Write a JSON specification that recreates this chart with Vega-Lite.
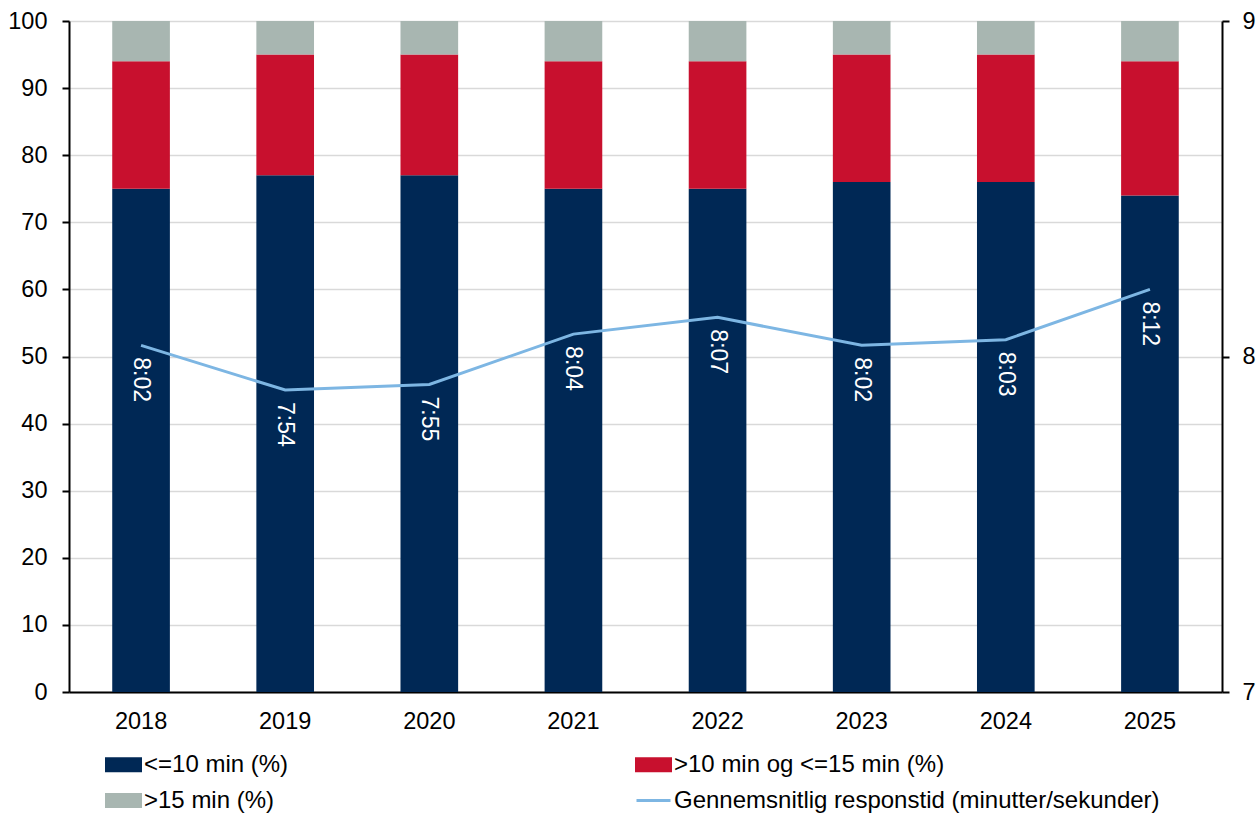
{
  "$schema": "https://vega.github.io/schema/vega-lite/v6.json",
  "width": 1153,
  "height": 671,
  "autosize": {"type": "none"},
  "padding": {"left": 69, "top": 21, "right": 36, "bottom": 122},
  "background": "white",
  "config": {
    "font": "Liberation Sans",
    "view": {"stroke": null},
    "axis": {"labelFont": "Liberation Sans", "labelFontSize": 23.5, "labelColor": "black", "domainColor": "black", "domainWidth": 2, "tickColor": "black", "tickWidth": 2, "titleFontSize": 22}
  },
  "datasets": {
    "bars": [
      {"year": "2018", "category": "<=10 min (%)", "ord": 1, "value": 75},
      {"year": "2018", "category": ">10 min og <=15 min (%)", "ord": 2, "value": 19},
      {"year": "2018", "category": ">15 min (%)", "ord": 3, "value": 6},
      {"year": "2019", "category": "<=10 min (%)", "ord": 1, "value": 77},
      {"year": "2019", "category": ">10 min og <=15 min (%)", "ord": 2, "value": 18},
      {"year": "2019", "category": ">15 min (%)", "ord": 3, "value": 5},
      {"year": "2020", "category": "<=10 min (%)", "ord": 1, "value": 77},
      {"year": "2020", "category": ">10 min og <=15 min (%)", "ord": 2, "value": 18},
      {"year": "2020", "category": ">15 min (%)", "ord": 3, "value": 5},
      {"year": "2021", "category": "<=10 min (%)", "ord": 1, "value": 75},
      {"year": "2021", "category": ">10 min og <=15 min (%)", "ord": 2, "value": 19},
      {"year": "2021", "category": ">15 min (%)", "ord": 3, "value": 6},
      {"year": "2022", "category": "<=10 min (%)", "ord": 1, "value": 75},
      {"year": "2022", "category": ">10 min og <=15 min (%)", "ord": 2, "value": 19},
      {"year": "2022", "category": ">15 min (%)", "ord": 3, "value": 6},
      {"year": "2023", "category": "<=10 min (%)", "ord": 1, "value": 76},
      {"year": "2023", "category": ">10 min og <=15 min (%)", "ord": 2, "value": 19},
      {"year": "2023", "category": ">15 min (%)", "ord": 3, "value": 5},
      {"year": "2024", "category": "<=10 min (%)", "ord": 1, "value": 76},
      {"year": "2024", "category": ">10 min og <=15 min (%)", "ord": 2, "value": 19},
      {"year": "2024", "category": ">15 min (%)", "ord": 3, "value": 5},
      {"year": "2025", "category": "<=10 min (%)", "ord": 1, "value": 74},
      {"year": "2025", "category": ">10 min og <=15 min (%)", "ord": 2, "value": 20},
      {"year": "2025", "category": ">15 min (%)", "ord": 3, "value": 6}
    ],
    "line": [
      {"year": "2018", "series": "Gennemsnitlig responstid (minutter/sekunder)", "minutes": 8.0333, "label": "8:02"},
      {"year": "2019", "series": "Gennemsnitlig responstid (minutter/sekunder)", "minutes": 7.9, "label": "7:54"},
      {"year": "2020", "series": "Gennemsnitlig responstid (minutter/sekunder)", "minutes": 7.9167, "label": "7:55"},
      {"year": "2021", "series": "Gennemsnitlig responstid (minutter/sekunder)", "minutes": 8.0667, "label": "8:04"},
      {"year": "2022", "series": "Gennemsnitlig responstid (minutter/sekunder)", "minutes": 8.1167, "label": "8:07"},
      {"year": "2023", "series": "Gennemsnitlig responstid (minutter/sekunder)", "minutes": 8.0333, "label": "8:02"},
      {"year": "2024", "series": "Gennemsnitlig responstid (minutter/sekunder)", "minutes": 8.05, "label": "8:03"},
      {"year": "2025", "series": "Gennemsnitlig responstid (minutter/sekunder)", "minutes": 8.2, "label": "8:12"}
    ]
  },
  "layer": [
    {
      "data": {"name": "bars"},
      "mark": {"type": "bar"},
      "encoding": {
        "x": {"field": "year", "type": "ordinal", "scale": {"paddingInner": 0.6, "paddingOuter": 0.3}, "axis": {"title": null, "labelAngle": 0, "ticks": false, "labelPadding": 17, "domainWidth": 2}},
        "y": {"field": "value", "type": "quantitative", "stack": "zero", "scale": {"domain": [0, 100], "nice": false}, "axis": {"title": null, "values": [0,10,20,30,40,50,60,70,80,90,100], "grid": true, "gridColor": "#D9D9D9", "gridWidth": 1.5, "tickSize": 7, "labelPadding": 15}},
        "order": {"field": "ord", "type": "quantitative", "sort": "ascending"},
        "color": {
          "field": "category",
          "type": "nominal",
          "scale": {
            "domain": ["<=10 min (%)", ">15 min (%)", ">10 min og <=15 min (%)", "Gennemsnitlig responstid (minutter/sekunder)"],
            "range": ["#002855", "#A8B6B1", "#C8102E", "#7DB6E3"]
          },
          "legend": {
            "title": null,
            "orient": "none",
            "legendX": 36,
            "legendY": 725,
            "columns": 2,
            "padding": 0,
            "labelFont": "Liberation Sans",
            "labelFontSize": 24,
            "labelColor": "black",
            "labelLimit": 700,
            "labelOffset": 2,
            "symbolSize": 1156,
            "rowPadding": 5,
            "columnPadding": 341,
            "encode": {
              "symbols": {
                "update": {
                  "shape": {"signal": "datum.value === 'Gennemsnitlig responstid (minutter/sekunder)' ? 'M-1,0H1' : 'M-1,-0.353H1V0.353H-1Z'"},
                  "fill": {"signal": "datum.value === 'Gennemsnitlig responstid (minutter/sekunder)' ? 'transparent' : scale('color', datum.value)"},
                  "stroke": {"signal": "datum.value === 'Gennemsnitlig responstid (minutter/sekunder)' ? '#7DB6E3' : 'transparent'"},
                  "strokeWidth": {"value": 3},
                  "opacity": {"value": 1},
                  "fillOpacity": {"value": 1}
                }
              }
            }
          }
        }
      }
    },
    {
      "data": {"name": "line"},
      "layer": [
        {
          "mark": {"type": "line", "strokeWidth": 3},
          "encoding": {
            "x": {"field": "year", "type": "ordinal"},
            "y": {"field": "minutes", "type": "quantitative", "scale": {"domain": [7, 9], "nice": false, "zero": false}, "axis": {"orient": "right", "title": null, "values": [7, 8, 9], "labelExpr": "toString(datum.value)", "labelOverlap": false, "grid": false, "tickSize": 7, "labelPadding": 13}},
            "color": {"field": "series", "type": "nominal"}
          }
        },
        {
          "mark": {"type": "text", "angle": 90, "align": "left", "baseline": "middle", "dx": 12, "fontSize": 23, "color": "white", "font": "Liberation Sans"},
          "encoding": {
            "x": {"field": "year", "type": "ordinal"},
            "y": {"field": "minutes", "type": "quantitative"},
            "text": {"field": "label", "type": "nominal"}
          }
        }
      ]
    }
  ],
  "resolve": {"scale": {"y": "independent"}}
}
